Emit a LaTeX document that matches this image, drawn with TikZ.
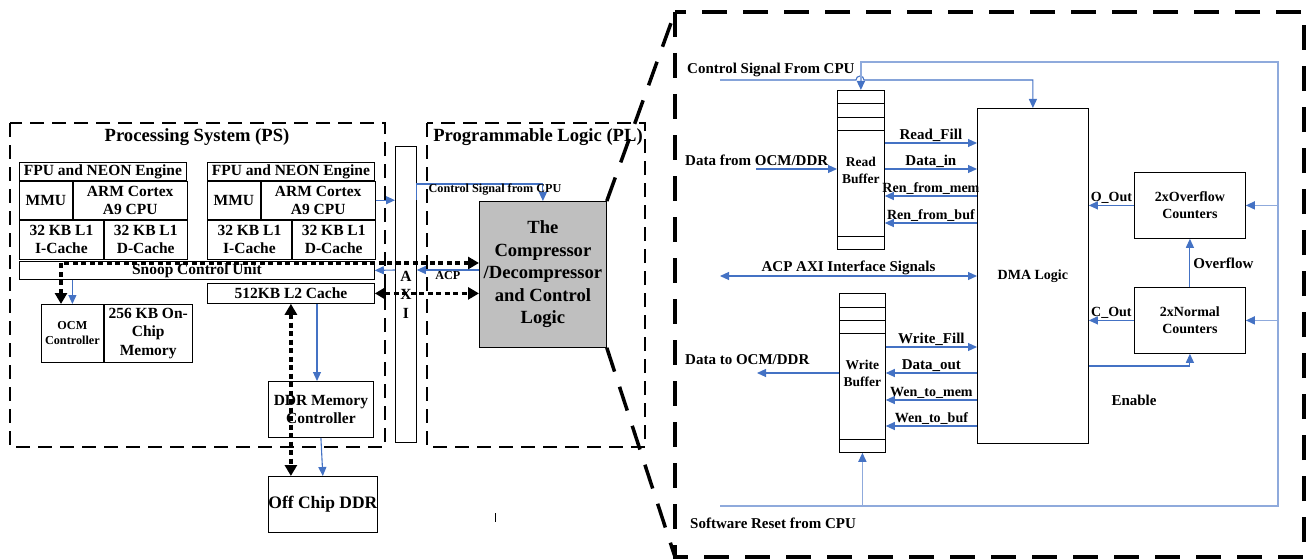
\documentclass[tikz,border=0pt]{standalone}
\usepackage{fontspec}
\setmainfont{Liberation Serif}
\usetikzlibrary{arrows.meta, positioning}
\definecolor{sigblue}{HTML}{4472C4}
\definecolor{loopblue}{HTML}{8FAADC}
\definecolor{compgray}{HTML}{BFBFBF}
\tikzset{blk/.style={draw, rectangle, inner sep=0pt, align=center, line width=0.8pt, font=\bfseries\fontsize{15.5}{18.5}\selectfont},
  lbl/.style={inner sep=1pt, align=center, font=\bfseries\fontsize{15}{18}\selectfont},
  lbls/.style={lbl, font=\bfseries\fontsize{14}{16}\selectfont},
  psframe/.style={draw, line width=1.5pt, dash pattern=on 14pt off 8pt},
  zoomframe/.style={draw, line width=3.5pt, dash pattern=on 25pt off 16pt},
  sig/.style={draw=sigblue, line width=1.1pt, >={Triangle[length=9pt,width=8pt]}},
  rstline/.style={draw=loopblue, line width=1.5pt, >={Triangle[length=9pt,width=8pt,color=sigblue]}},
  bus/.style={draw, line width=3.2pt, dash pattern=on 5pt off 3.5pt, >={Triangle[length=11pt,width=12pt]}},
}

\begin{document}
\begin{tikzpicture}[x=1pt, y=-1pt]
   \useasboundingbox (0,0) rectangle (1308,559);
   % PS and PL
   \draw[psframe] (10,123) rectangle (385,447);
   \draw[psframe] (427,123) rectangle (645,447);
   \node[lbl, font=\bfseries\fontsize{18.6}{22}\selectfont] (pstitle) at (197,137) {Processing System (PS)};
   \node[lbl, font=\bfseries\fontsize{18.6}{22}\selectfont] (pltitle) at (538,137) {Programmable Logic (PL)};
   \foreach \i/\x in {1/19, 2/207} {
      \node[blk, minimum width=167, minimum height=18, anchor=north west] (fpu\i) at (\x,162) {FPU and NEON Engine};
      \node[blk, minimum width=53, minimum height=38, below right=0pt and 0pt of fpu\i.south west] (mmu\i) {MMU};
      \node[blk, minimum width=114, minimum height=38, right=0pt of mmu\i] (arm\i) {ARM Cortex\\A9 CPU};
      \node[blk, minimum width=84, minimum height=39, below right=0pt and 0pt of mmu\i.south west] (ic\i) {32 KB L1\\I-Cache};
      \node[blk, minimum width=83, minimum height=39, right=0pt of ic\i] (dc\i) {32 KB L1\\D-Cache};
   }
   \node[blk, minimum width=355, minimum height=18, anchor=north west] (scu) at (19,261) {Snoop Control Unit};
   \node[blk, minimum width=167, minimum height=20, anchor=north west] (l2) at (207,283) {512KB L2 Cache};
   \node[blk, minimum width=62, minimum height=58, anchor=north west, font=\bfseries\fontsize{12.2}{15}\selectfont] (ocmc) at (41,304) {OCM\\Controller};
   \node[blk, minimum width=88, minimum height=58, right=0pt of ocmc] (ocmm) {256 KB On-\\Chip\\Memory};
   \node[blk, minimum width=105, minimum height=56, anchor=north west] (ddrc) at (268,381) {DDR Memory\\Controller};
   \node[blk, minimum width=105, minimum height=56, anchor=north west, font=\bfseries\fontsize{17.5}{20}\selectfont] (offddr) at (268,476) {Off Chip DDR};
   \node[blk, minimum width=21, minimum height=296, anchor=north west] (axi) at (395,146) {A\\X\\I};
   \node[blk, fill=compgray, minimum width=127, minimum height=146, anchor=north west, font=\bfseries\fontsize{18.6}{22.5}\selectfont] (comp) at (479,201) {The\\Compressor\\/Decompressor\\and Control\\Logic};
   \draw[thin] (495,513) -- (495,522);

   \draw[sig, ->] (arm2.east) -- (axi.west |- arm2.east);
   \draw[sig, ->] (axi.east |- arm2.east) |- (416,184) -| (comp.north);
   \node[lbl, font=\bfseries\fontsize{12.2}{14}\selectfont] (ctllbl) at (495,190) {Control Signal from CPU};
   \draw[sig, ->] (comp.west |- 0,270) -- node[lbl, below, font=\bfseries\fontsize{12.2}{14}\selectfont] {ACP} (axi.east |- 0,270);
   \draw[sig, ->] (axi.west |- 0,270) -- (scu.east);
   \draw[sig, ->] (ocmc.north |- scu.south) -- (ocmc.north);
   \draw[sig, ->] (l2.south -| 317,0) -- (ddrc.north -| 317,0);
   \draw[sig, ->] (ddrc.south) -- (offddr.north);
   \draw[bus, <->] (ocmc.north -| 61,0) |- (comp.west |- 0,263);
   \draw[bus, <->] (l2.east) -- (comp.west |- l2.east);
   \draw[bus, <->] (l2.south) -- (offddr.north -| l2.south);

   % zoomed view
   \coordinate (zoomTL) at (675,12);
   \coordinate (zoomBR) at (1304,557);
   \draw[zoomframe] (zoomTL) rectangle (zoomBR);
   \draw[zoomframe] (comp.north east) -- (zoomTL);
   \draw[zoomframe] (comp.south east) -- (zoomTL |- zoomBR);

   \node[blk, minimum width=47, minimum height=159, anchor=north west, font=\bfseries\fontsize{13.5}{17}\selectfont] (rbuf) at (837,90) {Read\\Buffer};
   \node[blk, minimum width=46, minimum height=159, anchor=north west, font=\bfseries\fontsize{13.5}{17}\selectfont] (wbuf) at (839,293) {Write\\Buffer};
   \foreach \y in {103,117,130,236} \draw[line width=0.8pt] (rbuf.west |- 0,\y) -- (rbuf.east |- 0,\y);
   \foreach \y in {307,320,333,439} \draw[line width=0.8pt] (wbuf.west |- 0,\y) -- (wbuf.east |- 0,\y);
   \node[blk, minimum width=111, minimum height=335, anchor=north west, font=\bfseries\fontsize{14}{17}\selectfont] (dma) at (977,108) {DMA Logic};
   \node[blk, minimum width=111, minimum height=66, anchor=north west, font=\bfseries\fontsize{14}{17.5}\selectfont] (ovf) at (1134,172) {2xOverflow\\Counters};
   \node[blk, minimum width=111, minimum height=66, anchor=north west, font=\bfseries\fontsize{14}{17.5}\selectfont] (nrm) at (1134,287) {2xNormal\\Counters};

   \coordinate (ctlL) at (720,80);
   \coordinate (rstL) at (720,506);
   \coordinate (rstR) at (1278,62);
   \node[lbl, anchor=west] (ctlcpu) at (686,70) {Control Signal From CPU};
   \draw[sig, ->] (ctlL) -- (856,80) arc (180:360:4) -| (dma.north);
   \draw[rstline, ->] (rstL) -| (rstR) -| (rbuf.north);
   \draw[rstline, ->] (wbuf.south |- rstL) -- (wbuf.south);
   \draw[rstline, ->] (ovf.east -| rstR) -- (ovf.east);
   \draw[rstline, ->] (nrm.east -| rstR) -- (nrm.east);
   \node[lbl, anchor=west] (rstcpu) at (689,523) {Software Reset from CPU};

   \coordinate (dinL) at (756,169);
   \node[lbl, anchor=west] (dinlbl) at (684,160) {Data from OCM/DDR};
   \draw[sig, ->] (dinL) -- (rbuf.west |- dinL);
   \coordinate (acpL) at (720,276);
   \draw[sig, <->] (acpL) -- node[lbl, above] {ACP AXI Interface Signals} (dma.west |- acpL);
   \coordinate (doutL) at (757,373);
   \node[lbl, anchor=west] (doutlbl) at (684,360) {Data to OCM/DDR};
   \draw[sig, ->] (wbuf.west |- doutL) -- (doutL);

   \foreach \y/\txt in {143/Read\_Fill, 169/Data\_in}
      \draw[sig, ->] (rbuf.east |- 0,\y) -- node[lbl, above] {\txt} (dma.west |- 0,\y);
   \foreach \y/\txt in {196/Ren\_from\_mem, 223/Ren\_from\_buf}
      \draw[sig, <-] (rbuf.east |- 0,\y) -- node[lbls, above] {\txt} (dma.west |- 0,\y);
   \draw[sig, ->] (wbuf.east |- 0,347) -- node[lbl, above] {Write\_Fill} (dma.west |- 0,347);
   \draw[sig, <-] (wbuf.east |- 0,373) -- node[lbl, above] {Data\_out} (dma.west |- 0,373);
   \foreach \y/\txt in {400/Wen\_to\_mem, 426/Wen\_to\_buf}
      \draw[sig, <-] (wbuf.east |- 0,\y) -- node[lbls, above] {\txt} (dma.west |- 0,\y);

   \draw[sig, ->] (ovf.west) -- node[lbls, above] {O\_Out} (dma.east |- ovf.west);
   \draw[sig, ->] (nrm.west) -- node[lbls, above] {C\_Out} (dma.east |- nrm.west);
   \draw[sig, ->] (nrm.north) -- node[lbl, right=2pt] {Overflow} (ovf.south);
   \draw[sig, ->] (dma.east |- 0,366) -| (nrm.south);
   \node[lbl] (enlbl) at (1134,400) {Enable};
\end{tikzpicture}
\end{document}
